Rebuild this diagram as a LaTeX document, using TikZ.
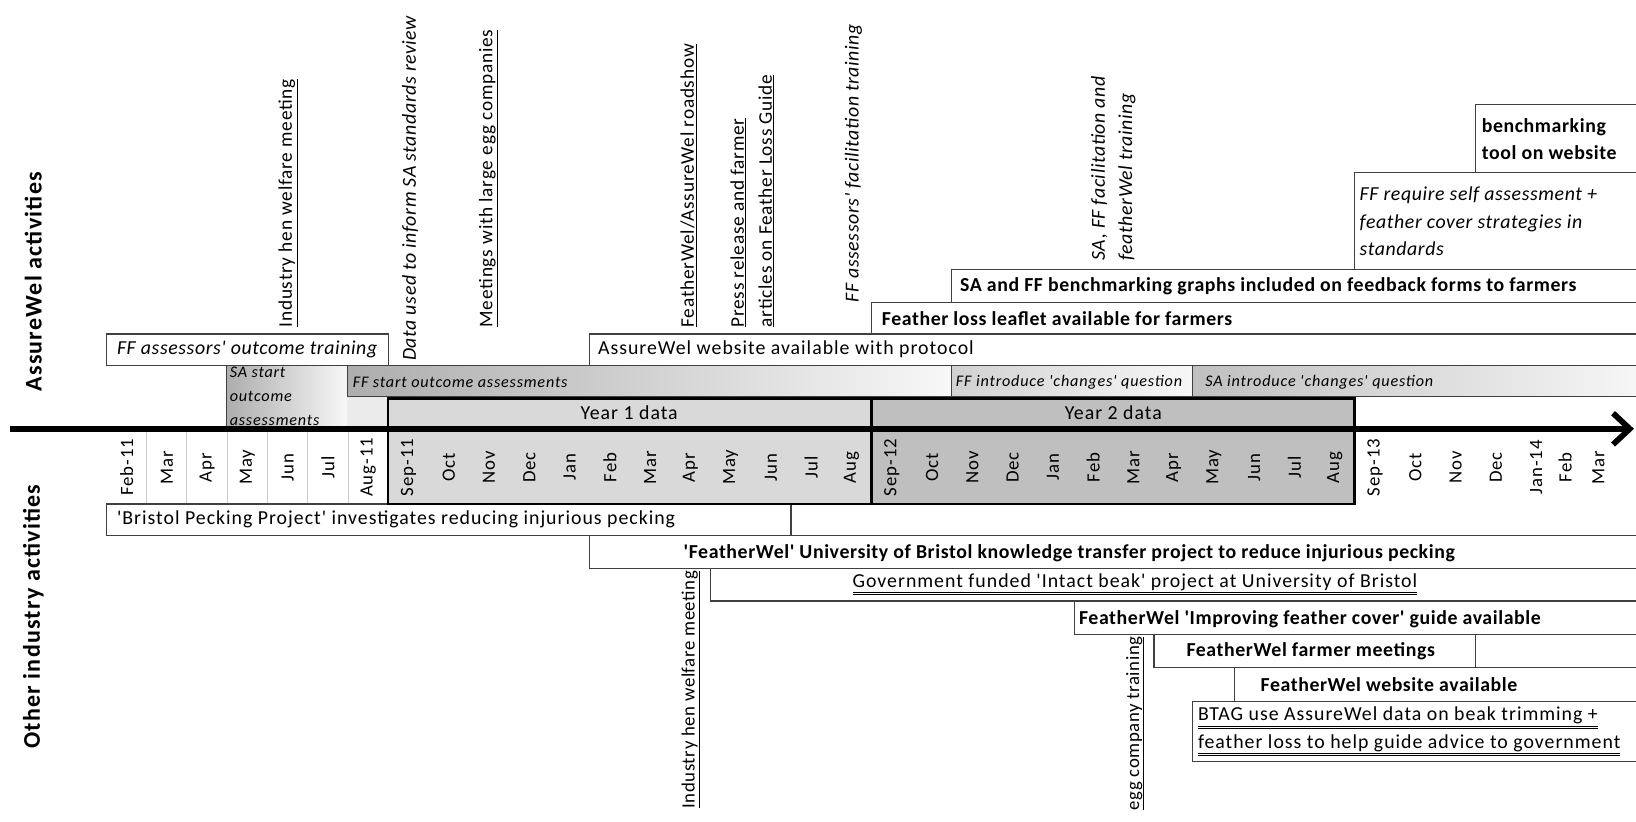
\documentclass[tikz,border=0pt]{standalone}
\usepackage{fontspec}
\setmainfont{Carlito}[Ligatures=TeXOff,LetterSpace=5]
\usetikzlibrary{arrows.meta}
\definecolor{yearone}{gray}{0.85}
\definecolor{yeartwo}{gray}{0.75}
\newcommand{\bfs}{\bfseries\addfontfeatures{LetterSpace=3}}
\newcommand{\its}{\itshape\addfontfeatures{LetterSpace=3}}

\begin{document}
\begin{tikzpicture}[x=1pt,y=-1pt]
  \tikzset{bar/.style={draw=black!75,line width=1.2pt,fill=white},
    shadebar/.style={draw=black!75,line width=1.2pt,left color=black!32,right color=black!3},
    yearbox/.style={draw=black,line width=2.5pt},
    txt/.style={anchor=west,inner sep=0pt,align=left,font=\fontsize{19}{26}\selectfont},
    boldtxt/.style={txt,font=\fontsize{19}{26}\selectfont\bfs},
    ittxt/.style={txt,font=\fontsize{19}{26}\selectfont\its},
    small/.style={txt,font=\fontsize{15.5}{23}\selectfont\itshape},
    rot/.style={rotate=90,anchor=west,inner sep=0pt,align=left,font=\fontsize{18.5}{27}\selectfont\addfontfeatures{LetterSpace=4}},
    rotit/.style={rot,font=\fontsize{19}{26}\selectfont\its},
    rotlow/.style={rot,anchor=east,font=\fontsize{18}{26}\selectfont\addfontfeatures{LetterSpace=3}},
    month/.style={rotate=90,inner sep=0pt,font=\fontsize{18}{20}\selectfont},
    side/.style={rotate=90,inner sep=0pt,font=\fontsize{23}{26}\selectfont\bfseries}}
  \clip (0,0) rectangle (1568,787);
  \fill[white] (0,0) rectangle (1568,787);
  \draw[bar] (102,320) rectangle (372,350);
  \draw[shadebar] (217,350) rectangle (333,411);
  \fill[black!8] (333,380) rectangle (372,411);
  \draw[shadebar] (333,350) rectangle (912,380);
  \draw[shadebar,left color=black!18] (912,350) rectangle (1143,380);
  \draw[shadebar,left color=black!25] (1143,350) rectangle (1580,380);
  \draw[bar] (565,320) rectangle (1580,350);
  \draw[bar] (835,290) rectangle (1580,320);
  \draw[bar] (912,258) rectangle (1580,290);
  \draw[bar] (1298,165) rectangle (1580,258);
  \draw[bar] (1414,100) rectangle (1580,165);
  \draw[bar] (102,483) rectangle (758,513);
  \draw[bar] (565,513) rectangle (1580,545);
  \draw[bar] (681,545) rectangle (1580,576);
  \draw[bar] (1030,576) rectangle (1580,608);
  \draw[bar] (1183,640) rectangle (1580,672);
  \draw[bar] (1106,608) rectangle (1414,640);
  \draw[bar] (1143,672) rectangle (1580,730);
  \foreach \k in {1,...,6}
    \draw[black!20,line width=1pt] ({102+\k*38.6},413) -- ({102+\k*38.6},483);
  \draw[black!75,line width=1.5pt] (102,483) -- (372,483);
  \draw[yearbox,fill=yearone] (372,382) rectangle (835,483);
  \draw[yearbox,fill=yeartwo] (835,382) rectangle (1298,483);
  \node[inner sep=0pt,font=\fontsize{19}{22}\selectfont] (year1) at (603,396) {Year 1 data};
  \node[inner sep=0pt,font=\fontsize{19}{22}\selectfont] (year2) at (1067,396) {Year 2 data};
  \foreach \m [count=\i from 0] in {Feb-11,Mar,Apr,May,Jun,Jul,Aug-11,Sep-11,Oct,Nov,Dec,Jan,Feb,Mar,Apr,May,Jun,Jul,Aug,Sep-12,Oct,Nov,Dec,Jan,Feb,Mar,Apr,May,Jun,Jul,Aug,Sep-13,Oct,Nov,Dec,Jan-14}
    \node[month] (m\i) at ({102+(\i+0.5)*38.6},448) {\m};
  \node[month] (m36) at (1500,448) {Feb};
  \node[month] (m37) at (1532,448) {Mar};
  \coordinate (axL) at (10,411);
  \coordinate (axR) at (1566,411);
  \draw[line width=5.5pt,-{Straight Barb[length=16pt,width=30pt]}] (axL) -- (axR);
  \node[side] (aw) at (32,270) {AssureWel activities};
  \node[side] (oia) at (32,591) {Other industry activities};
  \node[rot] (ihw) at (276,314) {\underline{Industry hen welfare meeting}};
  \node[rotit] (review) at (393,346) {Data used to inform SA standards review};
  \node[rot] (eggco) at (468,314) {\underline{Meetings with large egg companies}};
  \node[rot] (road) at (660,314) {\underline{FeatherWel/AssureWel roadshow}};
  \node[rot] (press) at (721,314) {\underline{Press release and farmer}\\\underline{articles on Feather Loss Guide}};
  \node[rotit] (ffacil) at (818,290) {FF assessors' facilitation training};
  \node[rotit] (safacil) at (1067,250) {SA, FF facilitation and\\featherWel training};
  \node[ittxt] (fftrain) at (112,335) {FF assessors' outcome training};
  \node[small] (sastart) at (220,380) {SA start\\outcome\\assessments};
  \node[small] (ffstart) at (338,366) {FF start outcome assessments};
  \node[small] (ffchg) at (916,366) {FF introduce 'changes' question};
  \node[small] (sachg) at (1155,366) {SA introduce 'changes' question};
  \node[txt] (awweb) at (573,335) {AssureWel website available with protocol};
  \node[boldtxt] (leaflet) at (845,305) {Feather loss leaflet available for farmers};
  \node[boldtxt] (graphs) at (920,274) {SA and FF benchmarking graphs included on feedback forms to farmers};
  \node[ittxt] (selfass) at (1303,212) {FF require self assessment +\\feather cover strategies in\\standards};
  \node[boldtxt] (tool) at (1420,133) {benchmarking\\tool on website};
  \node[txt] (bpp) at (112,498) {'Bristol Pecking Project' investigates reducing injurious pecking};
  \node[boldtxt] (fwproj) at (655,530) {'FeatherWel' University of Bristol knowledge transfer project to reduce injurious pecking};
  \node[txt] (beak) at (817,560) {\underline{\underline{Government funded 'Intact beak' project at University of Bristol}}};
  \node[boldtxt] (guide) at (1034,593) {FeatherWel 'Improving feather cover' guide available};
  \node[boldtxt] (farmers) at (1137,624) {FeatherWel farmer meetings};
  \node[boldtxt] (fwweb) at (1208,656) {FeatherWel website available};
  \node[txt] (btag) at (1148,701) {\underline{\underline{BTAG use AssureWel data on beak trimming +}}\\\underline{\underline{feather loss to help guide advice to government}}};
  \node[rotlow] (ihw2) at (662,547) {\underline{Industry hen welfare meeting}};
  \node[rotlow] (eggtr) at (1088,610) {\underline{egg company training}};
\end{tikzpicture}
\end{document}
